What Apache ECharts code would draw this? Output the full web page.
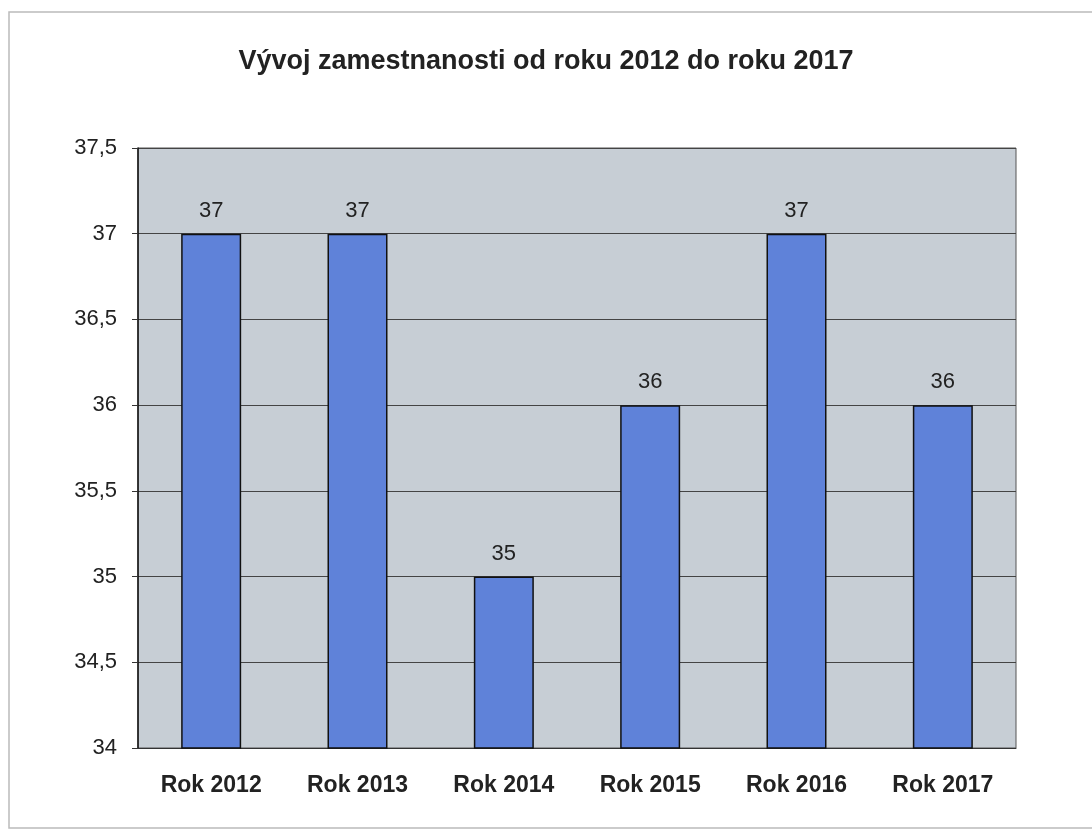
<!DOCTYPE html>
<html>
<head>
<meta charset="utf-8">
<script src="https://cdn.jsdelivr.net/npm/echarts@6/dist/echarts.min.js"></script>
<style>
  html, body { margin: 0; padding: 0; background: #fff; }
  #main { width: 1092px; height: 834px; }
</style>
</head>
<body>
<div id="main"></div>
<script>
var years = ['Rok 2012', 'Rok 2013', 'Rok 2014', 'Rok 2015', 'Rok 2016', 'Rok 2017'];
var employees = [37, 37, 35, 36, 37, 36];
var yMin = 34, yMax = 37.5, yStep = 0.5;

var chart = echarts.init(document.getElementById('main'));

option = {
    backgroundColor: '#ffffff',
    textStyle: { fontFamily: 'Liberation Sans, Arial, sans-serif' },
    title: {
        text: 'Vývoj zamestnanosti od roku 2012 do roku 2017',
        left: 'center',
        top: 43,
        textStyle: { fontSize: 27, fontWeight: 'bold', color: '#222' }
    },
    graphic: [{
        type: 'rect',
        shape: { x: 9, y: 12, width: 1100, height: 816 },
        style: { fill: 'none', stroke: '#bbb', lineWidth: 1.5 },
        silent: true
    }],
    grid: {
        left: 138, right: 76, top: 148, bottom: 86,
        show: true,
        backgroundColor: '#c7ced5',
        borderColor: '#555',
        borderWidth: 1
    },
    xAxis: {
        type: 'category',
        data: years,
        axisLine: { show: true, lineStyle: { color: '#333', width: 1 } },
        axisTick: { show: false },
        axisLabel: {
            margin: 26, fontSize: 23, fontWeight: 'bold', color: '#222'
        }
    },
    yAxis: {
        type: 'value',
        min: yMin, max: yMax, interval: yStep,
        axisLine: { show: true, lineStyle: { color: '#111', width: 1.5 } },
        axisTick: { show: true, length: 6, lineStyle: { color: '#333' } },
        splitLine: { show: true, lineStyle: { color: '#444', width: 1 } },
        axisLabel: {
            margin: 21, fontSize: 22, color: '#222',
            formatter: function (v) { return String(v).replace('.', ','); }
        }
    },
    series: [{
        type: 'bar',
        data: employees,
        barWidth: 60,
        itemStyle: { color: '#5f82d9', borderColor: '#111', borderWidth: 1.5 },
        label: {
            show: true, position: 'top', distance: 12,
            fontSize: 22, color: '#222'
        }
    }]
};

chart.setOption(option);
</script>
</body>
</html>
